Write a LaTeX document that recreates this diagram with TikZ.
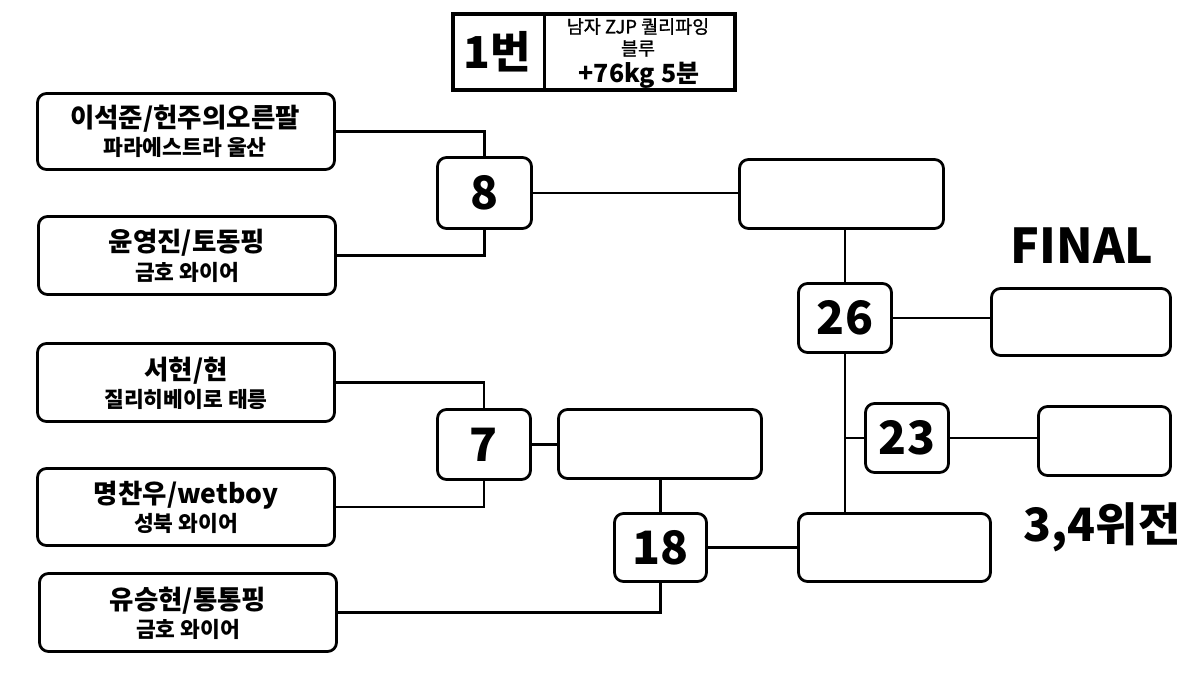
\documentclass[tikz,border=0pt]{standalone}
\usepackage{fontspec}
\setmainfont{Noto Sans CJK KR}
\begin{document}
\begin{tikzpicture}[x=1pt,y=-1pt,
  rbox/.style={draw, line width=2.8pt, rounded corners=9pt, inner sep=0pt},
  conn/.style={line width=2.8pt},
  numf/.style={font=\fontsize{46}{46}\selectfont\bfseries},
  namef/.style={font=\fontsize{26.5}{26.5}\selectfont\bfseries, inner sep=0pt},
  subf/.style={font=\fontsize{21.5}{21.5}\selectfont\bfseries, inner sep=0pt},
  smallf/.style={font=\fontsize{18.5}{18.5}\selectfont\addfontfeatures{FakeBold=1.2}, inner sep=0pt},
  bigf/.style={font=\fontsize{48}{48}\selectfont\bfseries, inner sep=0pt}]
\useasboundingbox (0,0) rectangle (1200,675);
\fill[white] (0,0) rectangle (1200,675);

% title box
\node[draw, line width=4pt, minimum width=282pt, minimum height=76pt, inner sep=0pt] (title) at (594,52) {};
\coordinate (dv) at (544,52);
\draw[line width=3pt] (dv |- title.north) -- (dv |- title.south);
\node[font=\fontsize{44}{44}\selectfont\bfseries, inner sep=0pt] (tnum) at (497,52) {1번};
\node[smallf] (t1) at (638,26.5) {남자 ZJP 퀄리파잉};
\node[smallf] (t2) at (638,48.5) {블루};
\node[font=\fontsize{25}{25}\selectfont\bfseries, inner sep=0pt] (t3) at (639,75) {+76kg 5분};

% players
\node[rbox, minimum width=297pt, minimum height=76pt] (p1) at (186,131.5) {};
\node[namef] (p1n) at (185,119) {이석준/헌주의오른팔};
\node[subf] (p1s) at (185,147.5) {파라에스트라 울산};

\node[rbox, minimum width=297pt, minimum height=78pt] (p2) at (187,255.5) {};
\node[namef] (p2n) at (187,243) {윤영진/토동핑};
\node[subf] (p2s) at (187,272) {금호 와이어};

\node[rbox, minimum width=297pt, minimum height=78pt] (p3) at (186,382.5) {};
\node[namef] (p3n) at (186,371) {서현/현};
\node[subf] (p3s) at (186,399) {질리히베이로 태릉};

\node[rbox, minimum width=297pt, minimum height=77pt] (p4) at (186,507) {};
\node[namef] (p4n) at (186,495) {명찬우/wetboy};
\node[subf] (p4s) at (186,523.5) {성북 와이어};

\node[rbox, minimum width=297pt, minimum height=78pt] (p5) at (188,612.5) {};
\node[namef] (p5n) at (188,600.5) {유승현/통통핑};
\node[subf] (p5s) at (188,629) {금호 와이어};

% matches
\node[rbox, numf, minimum width=94pt, minimum height=71pt] (m8) at (484.5,193) {8};
\node[rbox, numf, minimum width=93pt, minimum height=70pt] (m7) at (484,444.5) {7};
\node[rbox, numf, minimum width=92pt, minimum height=68pt] (m18) at (660.5,547.5) {18};
\node[rbox, numf, minimum width=93pt, minimum height=69pt] (m26) at (845,318) {26};
\node[rbox, numf, minimum width=83pt, minimum height=69pt] (m23) at (907,438) {23};

% result boxes
\node[rbox, minimum width=204pt, minimum height=69pt] (r8) at (841.5,194) {};
\node[rbox, minimum width=203pt, minimum height=69pt] (r7) at (660,444) {};
\node[rbox, minimum width=192pt, minimum height=68pt] (r18) at (894.5,547.5) {};
\node[rbox, minimum width=179pt, minimum height=67pt] (fin) at (1081,322) {};
\node[rbox, minimum width=132pt, minimum height=69pt] (third) at (1104.5,441) {};

% labels
\node[bigf] (lfinal) at (1082,246) {FINAL};
\node[font=\fontsize{46}{46}\selectfont\bfseries, inner sep=0pt] (lthird) at (1102,527) {3,4위전};

% connectors
\draw[conn] (p1.east) -| (m8.north);
\draw[conn] (p2.east) -| (m8.south);
\draw[conn] (m8.east) -- (m8.east -| r8.west);
\draw[conn] (m26.north) -- (m26.north |- r8.south);
\draw[conn] (m26.east) -- (m26.east -| fin.west);
\draw[conn] (m26.south) -- (m26.south |- r18.north);
\draw[conn] (m23.west) -- (m23.west -| m26.south);
\draw[conn] (m23.east) -- (m23.east -| third.west);
\draw[conn] (p3.east) -| (m7.north);
\draw[conn] (p4.east) -| (m7.south);
\draw[conn] (m7.east) -- (m7.east -| r7.west);
\draw[conn] (m18.north) -- (m18.north |- r7.south);
\draw[conn] (p5.east) -| (m18.south);
\draw[conn] (m18.east) -- (m18.east -| r18.west);
\end{tikzpicture}
\end{document}
